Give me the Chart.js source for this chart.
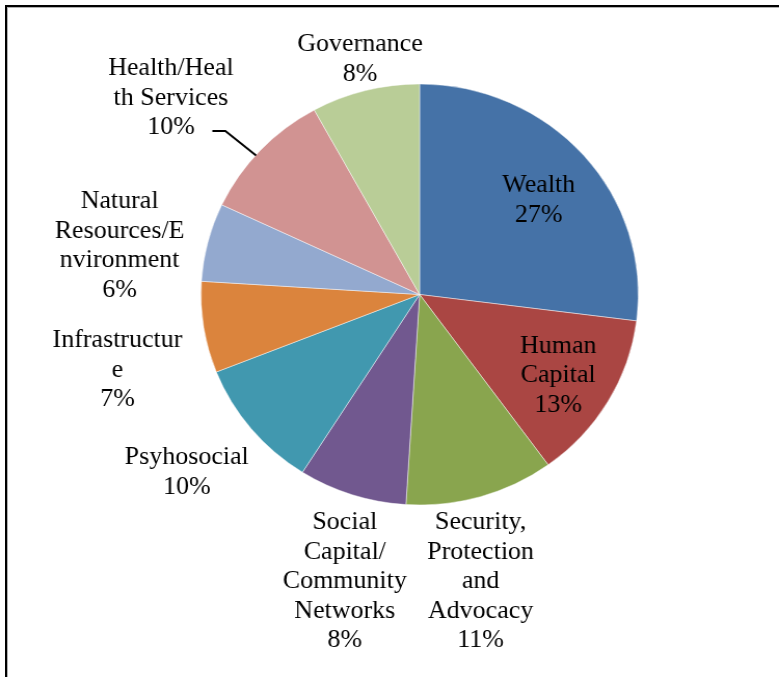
<!DOCTYPE html>
<html>
<head>
<meta charset="utf-8">
<script src="https://cdn.jsdelivr.net/npm/chart.js@4/dist/chart.umd.min.js"></script>
<style>
  html, body { margin: 0; padding: 0; background: #fff; }
  #frame {
    position: absolute; left: 5px; top: 5px; right: 0; bottom: 0;
    border-left: 2px solid #000; border-top: 2px solid #000;
    box-shadow: inset 1px 1px 0 #b0b0b0;
  }
  #chart { position: absolute; left: 0; top: 0; }
</style>
</head>
<body>
<div id="frame"></div>
<canvas id="chart" width="750" height="677" style="width:779px;height:677px"></canvas>
<script>
const categories = [
  "Wealth", "Human Capital", "Security, Protection and Advocacy",
  "Social Capital/ Community Networks", "Psyhosocial", "Infrastructure",
  "Natural Resources/Environment", "Health/Health Services", "Governance"
];
const shares = [27, 13, 11, 8, 10, 7, 6, 10, 8];
const sliceColors = [
  "#4572A7", "#AA4643", "#89A54E", "#71588F", "#4198AF",
  "#DB843D", "#93A9CF", "#D19392", "#B9CD97"
];
// category names as they wrap inside the label boxes
const nameLines = [
  ["Wealth"],
  ["Human", "Capital"],
  ["Security,", "Protection", "and", "Advocacy"],
  ["Social", "Capital/", "Community", "Networks"],
  ["Psyhosocial"],
  ["Infrastructur", "e"],
  ["Natural", "Resources/E", "nvironment"],
  ["Health/Heal", "th Services"],
  ["Governance"]
];

document.addEventListener("DOMContentLoaded", () => {
  // label placement: distance along the slice's middle angle (fraction of radius), then a nudge in px
  const labelPlacement = [
    { f: 0.72, dx: 1, dy: 6 },
    { f: 0.72, dx: 3, dy: 4 },
    { f: 1, dx: 0, dy: 85 },
    { f: 1, dx: -7, dy: 87 },
    { f: 1, dx: -62, dy: 44 },
    { f: 1, dx: -83, dy: 43 },
    { f: 1, dx: -85, dy: 4 },
    { f: 1, dx: -86, dy: -52, leader: true },
    { f: 1, dx: -5, dy: -31 }
  ];
  const lineHeight = 29.5;
  const labelFont = '25px "Liberation Serif"';

  const sliceLabels = {
    id: "sliceLabels",
    afterDatasetsDraw(chart) {
      const ctx = chart.ctx;
      const arcs = chart.getDatasetMeta(0).data;
      ctx.save();
      ctx.font = labelFont;
      ctx.fillStyle = "#000";
      ctx.textAlign = "center";
      ctx.textBaseline = "middle";

      arcs.forEach((arc, i) => {
        const { x, y, startAngle, endAngle, outerRadius } = arc.getProps(["x", "y", "startAngle", "endAngle", "outerRadius"], true);
        const mid = (startAngle + endAngle) / 2;
        const place = labelPlacement[i];
        const rimX = x + Math.cos(mid) * outerRadius;
        const rimY = y + Math.sin(mid) * outerRadius;
        const lx = x + Math.cos(mid) * outerRadius * place.f + place.dx;
        const ly = y + Math.sin(mid) * outerRadius * place.f + place.dy;

        const lines = nameLines[i].concat([shares[i] + "%"]);
        const top = ly - (lines.length - 1) * lineHeight / 2;
        lines.forEach((text, k) => ctx.fillText(text, lx, top + k * lineHeight));

        if (place.leader) {
          const lastY = top + (lines.length - 1) * lineHeight;
          const startX = lx + ctx.measureText(lines[lines.length - 1]).width / 2 + 17;
          ctx.beginPath();
          ctx.moveTo(startX, lastY + 3);
          ctx.lineTo(startX + 12.5, lastY + 3);
          ctx.lineTo(rimX - 4, rimY + 5);
          ctx.strokeStyle = "#000";
          ctx.lineWidth = 2;
          ctx.stroke();
        }
      });
      ctx.restore();
    }
  };

  document.fonts.load(labelFont).then(() => {
    new Chart(document.getElementById("chart"), {
      type: "pie",
      data: {
        labels: categories,
        datasets: [{
          data: shares,
          backgroundColor: sliceColors,
          borderColor: "rgba(255,255,255,0.45)",
          borderWidth: 1,
          radius: 210.5
        }]
      },
      options: {
        responsive: false,
        animation: false,
        layout: { padding: { left: 58, right: 0, top: 0, bottom: 88 } },
        plugins: {
          legend: { display: false },
          tooltip: { enabled: false }
        }
      },
      plugins: [sliceLabels]
    });
  });
});
</script>
</body>
</html>
